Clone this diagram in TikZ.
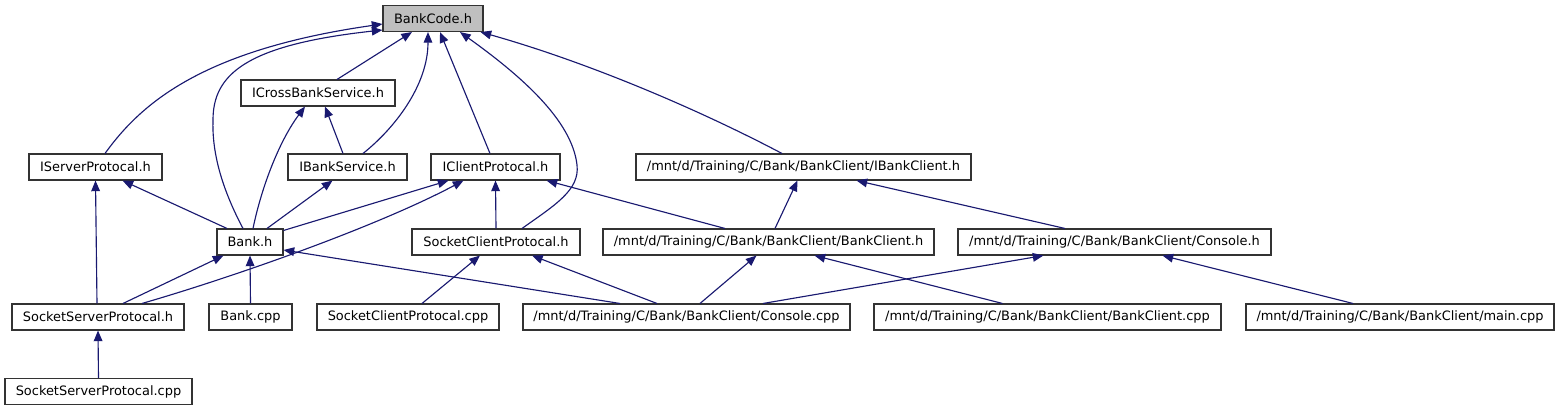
\documentclass[tikz,border=0pt]{standalone}
\usepackage{fontspec}
\setmainfont{DejaVu Sans}
\usetikzlibrary{arrows.meta,calc}
\definecolor{edgeblue}{HTML}{191970}
\definecolor{rootgray}{HTML}{BFBFBF}
\tikzset{>={Triangle[length=8pt,width=6.5pt]},
file/.style={rectangle,draw=black!80,line width=0.8pt,inner sep=0pt,
  minimum height=19.5pt,font=\fontsize{9.7}{11}\selectfont},
root/.style={file,fill=rootgray},
dep/.style={->,draw=edgeblue,line width=0.85pt},
every edge/.style={dep},
}
\begin{document}
\begin{tikzpicture}[x=0.75pt,y=-0.75pt]
\useasboundingbox (0,0) rectangle (1559,411);
% rows of files
\node[root,minimum width=75pt] (bankcode) at (433,18.5) {BankCode.h};
\node[file,minimum width=115.5pt] (icross) at (318,93) {ICrossBankService.h};
\node[file,minimum width=99.75pt] (iserver) at (95.5,167) {IServerProtocal.h};
\node[file,minimum width=89.25pt] (ibanksvc) at (347.5,167) {IBankService.h};
\node[file,minimum width=96.75pt] (iclient) at (495.5,167) {IClientProtocal.h};
\node[file,minimum width=251.25pt] (ibankclient) at (803.5,167) {/mnt/d/Training/C/Bank/BankClient/IBankClient.h};
\node[file,minimum width=49.5pt] (bank) at (250,242) {Bank.h};
\node[file,minimum width=126pt] (sockclient) at (496,242) {SocketClientProtocal.h};
\node[file,minimum width=248.25pt] (bankclient) at (768.5,242) {/mnt/d/Training/C/Bank/BankClient/BankClient.h};
\node[file,minimum width=234.75pt] (console) at (1114.5,242) {/mnt/d/Training/C/Bank/BankClient/Console.h};
\node[file,minimum width=129pt] (sockserver) at (98,317) {SocketServerProtocal.h};
\node[file,minimum width=62.25pt] (bankcpp) at (250.5,317) {Bank.cpp};
\node[file,minimum width=136.5pt] (sockclientcpp) at (408,317) {SocketClientProtocal.cpp};
\node[file,minimum width=245.25pt] (consolecpp) at (686.5,317) {/mnt/d/Training/C/Bank/BankClient/Console.cpp};
\node[file,minimum width=260.25pt] (bankclientcpp) at (1047.5,317) {/mnt/d/Training/C/Bank/BankClient/BankClient.cpp};
\node[file,minimum width=231pt] (maincpp) at (1400,317) {/mnt/d/Training/C/Bank/BankClient/main.cpp};
\node[file,minimum width=140.25pt] (sockservercpp) at (98.5,391.5) {SocketServerProtocal.cpp};

% curved includes of BankCode.h
\draw[dep] ($(iserver.north)+(9.5,0)$) .. controls (140,105) and (200,50) .. ($(bankcode.west)+(0,5.5)$);
\draw[dep] ($(bank.north)+(-7,0)$) .. controls (220,185) and (212,150) .. (213,120)
  .. controls (213,75) and (245,45) .. ($(bankcode.west)+(0,11.5)$);
\draw[dep] ($(ibanksvc.north)+(15.5,0)$) .. controls (395,128) and (428,85) .. ($(bankcode.south)+(-5,0)$);
\draw[dep] ($(sockclient.north)+(26,0)$) .. controls (555,205) and (580,190) .. (577,165)
  .. controls (572,120) and (520,75) .. ($(bankcode.south)+(27,0)$);
\draw[dep] ($(ibankclient.north)+(-21.5,0)$) .. controls (690,105) and (580,60) .. ($(bankcode.south east)+(-3,0)$);
\draw[dep] ($(bank.north)+(3,0)$) .. controls (262,185) and (280,140) .. ($(icross.south)+(-13,0)$);
\draw[dep] ($(sockserver.north)+(44,0)$) .. controls (240,275) and (380,225) .. ($(iclient.south)+(-32,0)$);

% straight includes
\path
($(icross.north)+(19,0)$) edge ($(bankcode.south)+(-21,0)$)
($(iclient.north)+(-5.5,0)$) edge ($(bankcode.south)+(7,0)$)
($(ibanksvc.north)+(-4.5,0)$) edge ($(icross.south)+(7,0)$)
($(bank.north)+(-23,0)$) edge ($(iserver.south)+(27,0)$)
($(bank.north)+(17,0)$) edge ($(ibanksvc.south)+(-15,0)$)
($(bank.north east)+(0,2)$) edge ($(iclient.south)+(-47,0)$)
(sockclient.north) edge (iclient.south)
($(bankclient.north)+(-43.5,0)$) edge ($(iclient.south east)+(-14,0)$)
($(bankclient.north)+(6.5,0)$) edge ($(ibankclient.south)+(-6,0)$)
($(console.north)+(-49.5,0)$) edge ($(ibankclient.south)+(53,0)$)
($(sockserver.north)+(-1,0)$) edge (iserver.south)
($(sockserver.north)+(25,0)$) edge ($(bank.south west)+(7,0)$)
(bankcpp.north) edge (bank.south)
($(consolecpp.north)+(-66.5,0)$) edge ($(bank.east)+(0,8)$)
($(sockclientcpp.north)+(14,0)$) edge ($(sockclient.south)+(-16,0)$)
($(consolecpp.north)+(-29.5,0)$) edge ($(sockclient.south)+(36,0)$)
($(consolecpp.north)+(13.5,0)$) edge ($(bankclient.south)+(-12,0)$)
($(bankclientcpp.north)+(-45,0)$) edge ($(bankclient.south)+(46,0)$)
($(consolecpp.north)+(76.5,0)$) edge ($(console.south west)+(86,0)$)
($(maincpp.north)+(-47,0)$) edge ($(console.south)+(48,0)$)
(sockservercpp.north) edge (sockserver.south)
;
\end{tikzpicture}
\end{document}
